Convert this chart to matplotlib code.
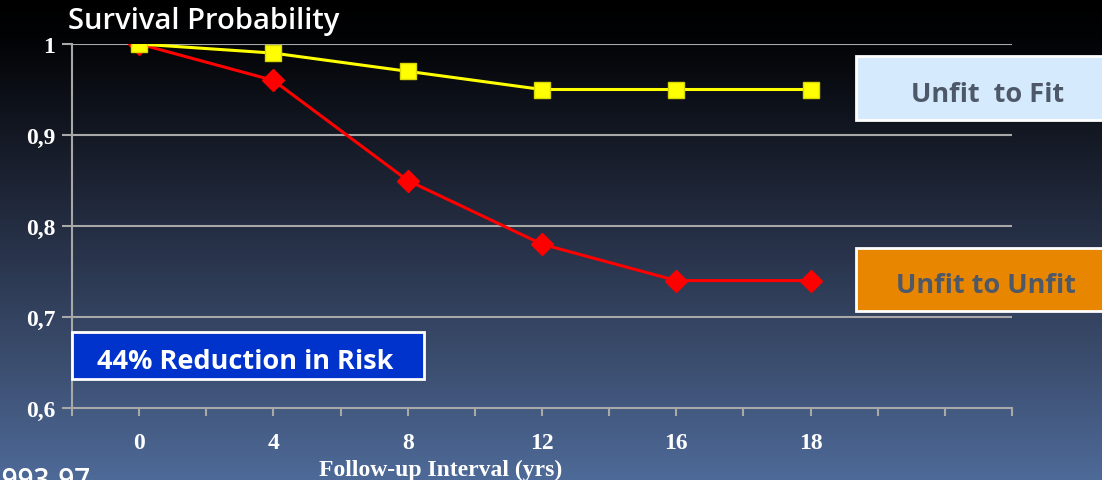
import matplotlib
matplotlib.use("Agg")
import matplotlib.pyplot as plt
import numpy as np
from matplotlib.colors import LinearSegmentedColormap

categories = ["0", "4", "8", "12", "16", "18"]
unfit_to_fit = [1.0, 0.99, 0.97, 0.95, 0.95, 0.95]
unfit_to_unfit = [1.0, 0.96, 0.85, 0.78, 0.74, 0.74]
y_ticks = [0.6, 0.7, 0.8, 0.9, 1.0]
y_tick_labels = ["0,6", "0,7", "0,8", "0,9", "1"]

W, H = 1102, 481
fig = plt.figure(figsize=(W / 100, H / 100), dpi=100)

# background gradient
bg = fig.add_axes([0, 0, 1, 1], zorder=-10)
cmap = LinearSegmentedColormap.from_list(
    "bg", [(0, "#000000"), (0.08, "#020305"), (0.4, "#1e2536"), (0.75, "#3b4d6e"), (1.0, "#4e6a98")])
grad = np.linspace(0, 1, 256).reshape(-1, 1)
bg.imshow(grad, aspect="auto", cmap=cmap, extent=[0, 1, 0, 1], origin="upper")
bg.set_axis_off()

ax = fig.add_axes([72 / W, 1 - 409 / H, (1012 - 72) / W, (409 - 45) / H])
ax.patch.set_alpha(0)
x = np.arange(len(categories))
ax.set_xlim(-0.5, 6.5)
ax.set_ylim(0.6, 1.0)

grid_c = "#a8a8a8"
for yv in y_ticks[1:]:
    ax.axhline(yv, color=grid_c, lw=1.5, zorder=1)

ax.plot(x, unfit_to_unfit, color="#ff0000", lw=2.2, marker="D", ms=11,
        mfc="#ff0000", mec="#ff0000", zorder=3)
ax.plot(x, unfit_to_fit, color="#ffff00", lw=2.2, marker="s", ms=12,
        mfc="#ffff00", mec="#d8d800", zorder=4)

for s in ["top", "right"]:
    ax.spines[s].set_visible(False)
for s in ["left", "bottom"]:
    ax.spines[s].set_color(grid_c)
    ax.spines[s].set_linewidth(1.5)

ax.set_yticks(y_ticks)
ax.set_yticklabels(y_tick_labels)
ax.set_xticks(np.arange(-0.5, 6.51, 0.5), minor=True)
ax.set_xticks(x)
ax.set_xticklabels(categories)
ax.tick_params(axis="x", which="both", length=6, width=1.5, color=grid_c, direction="out")
ax.tick_params(axis="x", which="major", pad=11)
ax.tick_params(axis="y", length=7, width=1.5, color=grid_c, pad=5)
for lab in ax.get_xticklabels() + ax.get_yticklabels():
    lab.set_fontfamily("Liberation Serif")
    lab.set_fontweight("bold")
    lab.set_fontsize(17)
    lab.set_color("white")

fig.text(441 / W, 1 - 470 / H, "Follow-up Interval (yrs)", family="Liberation Serif",
         weight="bold", fontsize=17, color="white", va="center", ha="center")

fig.text(68 / W, 1 - 22 / H, "Survival Probability", family="Open Sans", weight=600,
         fontsize=21, color="white", va="center")

fig.text(-13 / W, 1 - 482 / H, "1993-97", family="Open Sans", weight=600,
         fontsize=20, color="white", va="center")

# annotation boxes
def box(x0, y0, x1, y1, fc, text, tc, fs, tx, ty):
    r = plt.Rectangle((x0 / W, 1 - y1 / H), (x1 - x0) / W, (y1 - y0) / H,
                      transform=fig.transFigure, fc=fc, ec="white", lw=2, zorder=5)
    fig.add_artist(r)
    fig.text(tx / W, 1 - ty / H, text, family="Open Sans", weight="bold",
             fontsize=fs, color=tc, ha="center", va="center", zorder=6)

box(856, 57, 1110, 121, "#d5eafc", "Unfit  to Fit", "#4d5868", 19.5, 988, 95)
box(856, 249, 1110, 312, "#e88600", "Unfit to Unfit", "#4d5868", 19.5, 986, 286)
box(72, 333, 424, 380, "#0033cc", "44% Reduction in Risk", "white", 19.5, 245, 362)

fig.savefig("out.png", dpi=100)
